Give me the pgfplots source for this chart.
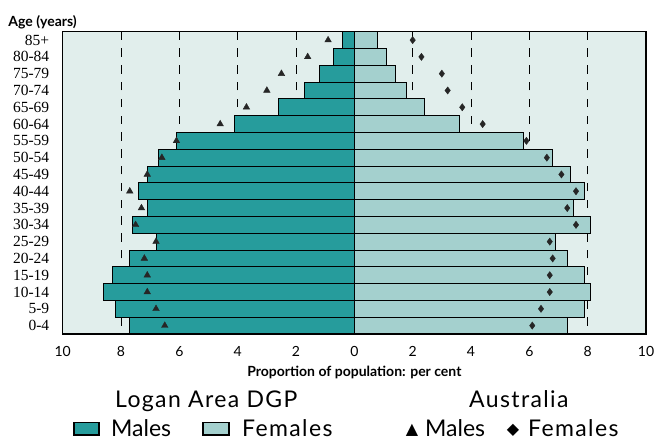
\documentclass[border=0pt]{standalone}
\usepackage{fontspec}
\setmainfont{Lato}
\newfontfamily\serifnum{Liberation Serif}
\newfontfamily\legwide{Lato}[LetterSpace=6]
\newfontfamily\symfont{DejaVu Sans}
\usepackage{pgfplots}
\usepackage{pgfplotstable}
\pgfplotsset{compat=1.18}
\definecolor{malec}{HTML}{269C9C}
\definecolor{femc}{HTML}{A4D0CE}
\definecolor{bgc}{HTML}{E1EEEC}
\newcommand\yl[1]{{\serifnum\fontsize{15.5}{15.5}\selectfont #1}}

% age groups indexed 0 (0-4) ... 17 (85+)
\pgfplotstableread{
y  lm   lf   am    af
0  7.7  7.3  6.5   6.1
1  8.2  7.9  6.8   6.4
2  8.6  8.1  7.1   6.7
3  8.3  7.9  7.1   6.7
4  7.7  7.3  7.2   6.8
5  6.8  6.9  6.8   6.7
6  7.6  8.1  7.5   7.6
7  7.1  7.5  7.3   7.3
8  7.4  7.9  7.7   7.6
9  7.1  7.4  7.1   7.1
10 6.7  6.8  6.6   6.6
11 6.1  5.8  6.1   5.9
12 4.1  3.6  4.6   4.4
13 2.6  2.4  3.7   3.7
14 1.7  1.8  3.0   3.2
15 1.2  1.4  2.5   3.0
16 0.7  1.1  1.6   2.3
17 0.4  0.8  0.9   2.0
}\pyramid

\begin{document}
\begin{tikzpicture}
\useasboundingbox (-62.7pt,-107pt) rectangle (591.3pt,334pt);
\begin{axis}[
  scale only axis,
  width=583.3pt, height=302.3pt,
  xmin=-10, xmax=10,
  ymin=-0.5, ymax=17.5,
  axis background/.style={fill=bgc},
  axis line style={black, line width=1.2pt},
  xtick={-10,-8,...,10},
  xticklabel={\pgfmathparse{abs(\tick)}\pgfmathprintnumber{\pgfmathresult}},
  xticklabel style={font=\fontsize{14}{14}\selectfont, anchor=base, yshift=-23pt},
  /pgf/number format/assume math mode=true,
  ytick={0,...,17},
  yticklabels={\yl{0-4},\yl{5-9},\yl{10-14},\yl{15-19},\yl{20-24},\yl{25-29},\yl{30-34},\yl{35-39},\yl{40-44},\yl{45-49},\yl{50-54},\yl{55-59},\yl{60-64},\yl{65-69},\yl{70-74},\yl{75-79},\yl{80-84},\yl{85+}},
  yticklabel style={anchor=east, xshift=-10pt},
  major tick length=0pt,
  xmajorgrids=true,
  grid style={black, line width=0.9pt, dash pattern=on 8.4pt off 8.4pt, dash phase=8.4pt},
  xlabel={\textbf{Proportion of population: per cent}},
  xlabel style={font=\fontsize{14}{14}\selectfont, at={(axis description cs:0.5,0)}, anchor=base, yshift=-42.7pt},
  xbar, bar width=16.8pt, bar shift=0pt,
  clip=false,
]
\addplot[draw=black, line width=1pt, fill=malec] table[x expr=-\thisrow{lm}, y=y] {\pyramid};
\addplot[draw=black, line width=1pt, fill=femc] table[x=lf, y=y] {\pyramid};
\addplot[only marks, mark=triangle*, mark size=3.8pt, color=black!85, fill=black!85] table[x expr=-\thisrow{am}, y=y] {\pyramid};
\addplot[only marks, mark=diamond*, mark size=3.6pt, color=black!85, fill=black!85] table[x=af, y=y] {\pyramid};
\end{axis}
% headings and legend
\node[anchor=base west, font=\bfseries\fontsize{14}{14}\selectfont, inner sep=0pt] at (-54.4pt,307.3pt) {Age (years)};
\begin{scope}[font=\fontsize{23}{23}\selectfont]
\node[anchor=base west, inner sep=0pt] at (52.3pt,-74pt) {\legwide Logan Area DGP};
\node[anchor=base west, inner sep=0pt] at (406.3pt,-74pt) {\legwide Australia};
\draw[line width=1.3pt, fill=malec] (11.3pt,-88.3pt) rectangle (36.3pt,-101pt);
\node[anchor=base west, inner sep=0pt] at (48.3pt,-103pt) {Males};
\draw[line width=1.3pt, fill=femc] (140.3pt,-88.3pt) rectangle (166.3pt,-101pt);
\node[anchor=base west, inner sep=0pt] at (179.3pt,-103pt) {\legwide Females};
\node[anchor=base, inner sep=0pt, font=\symfont\fontsize{16}{16}\selectfont] at (349.3pt,-101pt) {▲};
\node[anchor=base west, inner sep=0pt] at (362.3pt,-103pt) {Males};
\node[anchor=base, inner sep=0pt, font=\symfont\fontsize{16}{16}\selectfont] at (450.3pt,-101pt) {◆};
\node[anchor=base west, inner sep=0pt] at (465.3pt,-103pt) {\legwide Females};
\end{scope}
\end{tikzpicture}
\end{document}
